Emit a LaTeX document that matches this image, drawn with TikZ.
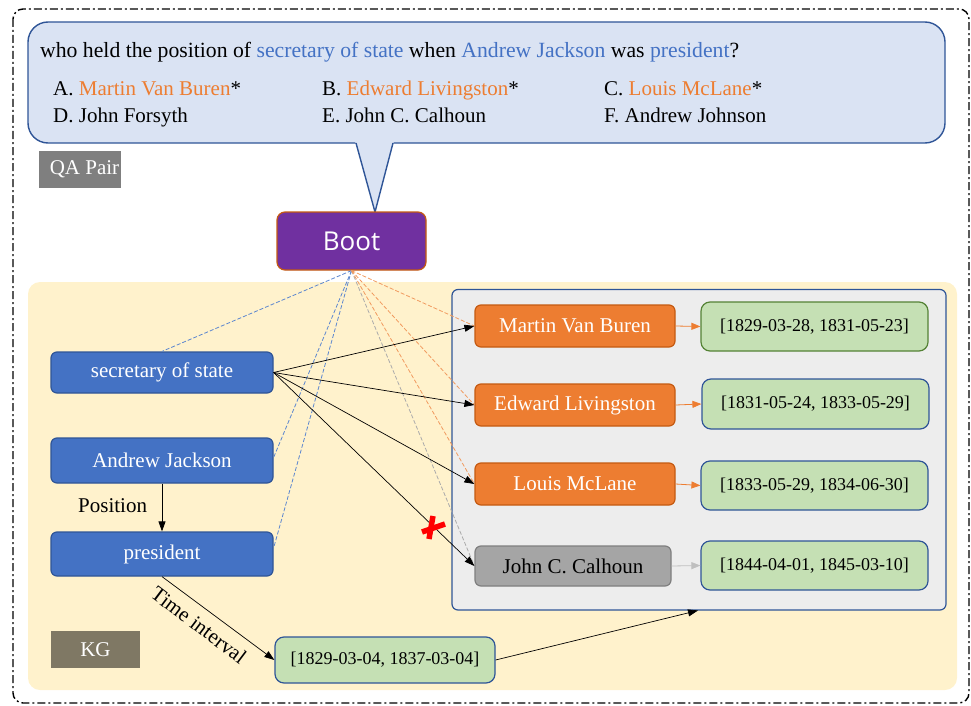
\documentclass[tikz,border=0pt]{standalone}
\usepackage{fontspec}
\setmainfont{Liberation Serif}
\newfontfamily\bootfont{Open Sans}
\usetikzlibrary{arrows.meta}
\definecolor{bubfill}{HTML}{DAE3F3}
\definecolor{dblue}{HTML}{2F5597}
\definecolor{mblue}{HTML}{4472C4}
\definecolor{qblue}{HTML}{4472C4}
\definecolor{morange}{HTML}{ED7D31}
\definecolor{dorange}{HTML}{C55A11}
\definecolor{bootfill}{HTML}{7030A0}
\definecolor{kgbg}{HTML}{FFF2CC}
\definecolor{panelfill}{HTML}{EDEDED}
\definecolor{gnode}{HTML}{A5A5A5}
\definecolor{gborder}{HTML}{7F7F7F}
\definecolor{greenfill}{HTML}{C5E0B4}
\definecolor{dgreen}{HTML}{548235}
\definecolor{qagray}{HTML}{7F7F7F}
\definecolor{kgbox}{HTML}{7F7864}
\definecolor{dashblue}{HTML}{5B86CF}
\definecolor{dashorange}{HTML}{F19A5E}
\definecolor{dashgray}{HTML}{ABABAB}
\definecolor{lgray}{HTML}{BFBFBF}
\tikzset{
  nodebase/.style={rounded corners=6pt, line width=1.2pt, inner sep=0pt, font=\fontsize{21}{25}\selectfont},
  bluebox/.style={nodebase, draw=dblue, fill=mblue, text=white},
  orangebox/.style={nodebase, draw=dorange, fill=morange, text=white},
  graybox/.style={nodebase, draw=gborder, fill=gnode, text=black},
  datebox/.style={nodebase, rounded corners=9pt, draw=dblue, fill=greenfill, text=black, font=\fontsize{18}{22}\selectfont},
  labelbox/.style={inner sep=0pt, text=white, font=\fontsize{21}{25}\selectfont},
  blk/.style={-{Triangle[length=10pt,width=7pt]}, line width=0.7pt, black},
  dsh/.style={dash pattern=on 4pt off 2pt, line width=0.8pt},
  qtext/.style={anchor=base west, inner sep=0pt, font=\fontsize{21}{25}\selectfont},
}
\begin{document}
\begin{tikzpicture}[x=1pt,y=-1pt]
\useasboundingbox (0,0) rectangle (971,706);
% outer dash-dot border
\draw[line width=1.4pt, dash pattern=on 8pt off 3pt on 2pt off 3pt, rounded corners=10pt] (13,9) rectangle (969,703);
% speech bubble
\draw[fill=bubfill, draw=dblue, line width=1.4pt, rounded corners=20pt] (28,22) rectangle (945,143);
\fill[bubfill] (355,141) -- (375,212) -- (394,141) -- cycle;
\draw[dblue, line width=1.4pt, line join=miter] (356,143) -- (375,212) -- (393,143);
% question text
\node[qtext, font=\fontsize{21.7}{26}\selectfont] (q) at (40,58)
  {who held the position of \textcolor{qblue}{secretary of state} when \textcolor{qblue}{Andrew Jackson} was \textcolor{qblue}{president}?};
\node[qtext] (oa) at (53,96) {A. \textcolor{morange}{Martin Van Buren}*};
\node[qtext] (ob) at (322,96) {B. \textcolor{morange}{Edward Livingston}*};
\node[qtext] (oc) at (604,96) {C. \textcolor{morange}{Louis McLane}*};
\node[qtext] (od) at (53,123) {D. John Forsyth};
\node[qtext] (oe) at (322,123) {E. John C. Calhoun};
\node[qtext] (of) at (604,123) {F. Andrew Johnson};
% QA pair label
\node[labelbox, fill=qagray, minimum width=82pt, minimum height=37pt] (qa) at (80,169.5) {\hspace*{9pt}QA Pair};
% KG background
\fill[kgbg, rounded corners=12pt] (28,282) rectangle (957,690);
% panel
\draw[fill=panelfill, draw=dblue, line width=1.2pt, rounded corners=6pt] (452,289.5) rectangle (946,610);
% Boot
\node[rounded corners=8pt, draw=dorange, fill=bootfill, line width=1.2pt, text=white, minimum width=149pt, minimum height=58pt, inner sep=0pt, font=\bootfont\fontsize{26}{30}\selectfont] (boot) at (351.5,241) {Boot};
% KG label
\node[labelbox, fill=kgbox, minimum width=89pt, minimum height=37pt] (kg) at (95.5,649.5) {KG};
% left nodes
\node[bluebox, minimum width=222pt, minimum height=41pt] (sec) at (162,372.5) {secretary of state};
\node[bluebox, minimum width=222pt, minimum height=45pt] (aj) at (162,460.5) {Andrew Jackson};
\node[bluebox, minimum width=222pt, minimum height=44pt] (pres) at (162,554) {president};
% right nodes
\node[orangebox, minimum width=200pt, minimum height=42pt] (mvb) at (575,326) {Martin Van Buren};
\node[orangebox, minimum width=200pt, minimum height=42pt] (el) at (575,405) {Edward Livingston};
\node[orangebox, minimum width=200pt, minimum height=42pt] (lm) at (575,484) {Louis McLane};
\node[graybox, minimum width=196pt, minimum height=40pt] (jcc) at (573,566) {John C. Calhoun};
\node[datebox, draw=dgreen, minimum width=227pt, minimum height=49pt] (d1) at (814.5,326.5) {[1829-03-28, 1831-05-23]};
\node[datebox, minimum width=227pt, minimum height=50pt] (d2) at (815.5,404) {[1831-05-24, 1833-05-29]};
\node[datebox, minimum width=227pt, minimum height=49pt] (d3) at (814.5,485.5) {[1833-05-29, 1834-06-30]};
\node[datebox, minimum width=227pt, minimum height=49pt] (d4) at (814.5,565.5) {[1844-04-01, 1845-03-10]};
\node[datebox, minimum width=220pt, minimum height=46pt] (d0) at (385,660) {[1829-03-04, 1837-03-04]};
\coordinate (panelbot) at (698,610.5);
% dashed lines from Boot
\draw[dsh, dashblue] (boot.south) -- (sec.north);
\draw[dsh, dashblue] (boot.south) -- ([yshift=3pt]aj.east);
\draw[dsh, dashblue] (boot.south) -- ([yshift=6pt]pres.east);
\draw[dsh, dashgray] (boot.south) -- (jcc.west);
\draw[dsh, dashorange] (boot.south) -- (lm.west);
\draw[dsh, dashorange] (boot.south) -- (el.west);
\draw[dsh, dashorange] (boot.south) -- (mvb.west);
% black arrows
\draw[blk] (sec.east) -- (mvb.west);
\draw[blk] (sec.east) -- (el.west);
\draw[blk] (sec.east) -- (lm.west);
\draw[blk] (sec.east) -- (jcc.west);
\draw[blk] (aj.south) -- (pres.north);
\draw[blk] (pres.south) -- (d0.west);
\draw[blk] (d0.east) -- (panelbot);
% right arrows
\draw[-{Triangle[length=9pt,width=7pt]}, line width=0.8pt, morange] (mvb.east) -- (d1.west);
\draw[-{Triangle[length=9pt,width=7pt]}, line width=0.8pt, morange] (el.east) -- (d2.west);
\draw[-{Triangle[length=9pt,width=7pt]}, line width=0.8pt, morange] (lm.east) -- (d3.west);
\draw[-{Triangle[length=9pt,width=7pt]}, line width=0.8pt, lgray] (jcc.east) -- (d4.west);
% labels
\node[anchor=base west, inner sep=0pt, font=\fontsize{21}{25}\selectfont] (pos) at (78,512) {Position};
\node[inner sep=0pt, rotate=-37, font=\fontsize{21}{25}\selectfont] (ti) at (199,625) {Time interval};
% red cross
\draw[red, line width=5.5pt] (433,516) -- (429,539);
\draw[red, line width=5.5pt] (422,532) -- (445,524);
\end{tikzpicture}
\end{document}
